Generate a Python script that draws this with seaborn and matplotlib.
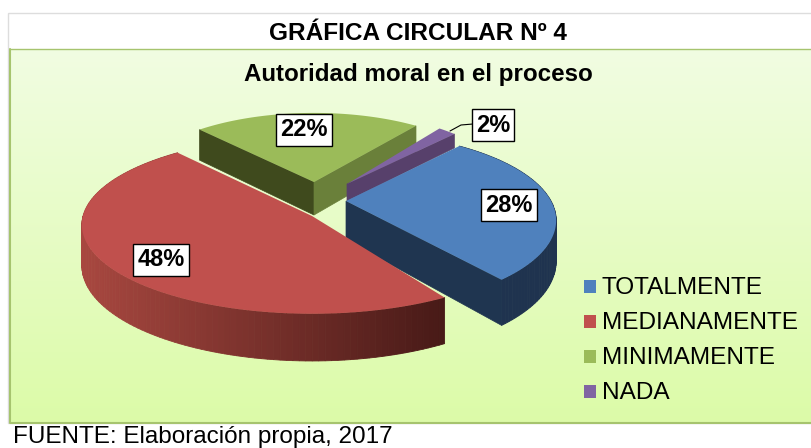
import numpy as np
import matplotlib
matplotlib.use("Agg")
import matplotlib.pyplot as plt
import seaborn as sns
from matplotlib.patches import Polygon, Rectangle

categories = ["TOTALMENTE", "MEDIANAMENTE", "MINIMAMENTE", "NADA"]
values = [28, 48, 22, 2]
title = "GRÁFICA CIRCULAR Nº 4"
subtitle = "Autoridad moral en el proceso"
source = "FUENTE: Elaboración propia, 2017"

top_colors = sns.color_palette(["#4F81BD", "#C0504D", "#9BBB59", "#8064A2"])

# per slice layout in pixels: apex, radii, perspective, depth, rotation
layout = [
    dict(apex=(346, 201), a=205, b=84, k=0.22, depth=39, dk=0.22, rot=5),
    dict(apex=(312, 216), a=229, b=88, k=0.10, depth=40, dk=0.18, rot=-2),
    dict(apex=(314, 182), a=183, b=76, k=0.10, depth=33, dk=0.10, rot=1),
    dict(apex=(347, 184), a=162, b=76, k=0.10, depth=17, dk=0.25, rot=0),
]
label_pos = [(509, 205), (161, 260), (304, 130), (493, 125)]
legend_y = [288, 323, 358, 393]


def project(theta, r, p, down=False):
    t = np.radians(np.asarray(theta, dtype=float) + p["rot"])
    u, v = r * np.cos(t), r * np.sin(t)
    w = 1 + p["k"] * v
    x = p["apex"][0] + p["a"] * u / w
    y = p["apex"][1] - p["b"] * v / w
    if down:
        y = y + p["depth"] * (1 - p["dk"] * v)
    return np.column_stack([x, y])


def sector(wedge, p, down=False):
    theta = np.linspace(wedge.theta1, wedge.theta2, 80)
    apex = project([0], 0, p, down)
    return np.vstack([apex, project(theta, 1, p, down)])


def wall(ax, pts_top, pts_bot, c_from, c_to, z):
    # strips along the rim, shaded from left to right
    c_from, c_to = np.array(c_from), np.array(c_to)
    x0, x1 = pts_top[:, 0].min(), pts_top[:, 0].max()
    for i in range(len(pts_top) - 1):
        f = ((pts_top[i, 0] + pts_top[i + 1, 0]) / 2 - x0) / max(x1 - x0, 1)
        quad = [pts_top[i], pts_top[i + 1], pts_bot[i + 1], pts_bot[i]]
        col = c_from + (c_to - c_from) * f
        ax.add_patch(Polygon(quad, closed=True, fc=col, ec=col, lw=0.6, zorder=z))


def flat_wall(ax, wedge, p, angle, color, z):
    top = np.vstack([project([0], 0, p), project([angle], 1, p)])
    bot = np.vstack([project([0], 0, p, True), project([angle], 1, p, True)])
    ax.add_patch(Polygon([top[0], top[1], bot[1], bot[0]], closed=True,
                         fc=color, ec=color, lw=0.5, zorder=z))


def main():
    sns.set_theme(style="white")
    plt.rcParams["font.family"] = ["Liberation Sans", "DejaVu Sans"]
    plt.rcParams["text.color"] = "black"

    fig = plt.figure(figsize=(8.12, 4.48), dpi=100)
    ax = fig.add_axes([0, 0, 1, 1])

    # pie works out the slice angles, the slices are then tilted by hand
    wedges, _ = ax.pie(values, startangle=44.8, counterclock=False, colors=top_colors)
    wedges = list(wedges)
    for w in wedges:
        w.remove()
    ax.set_aspect("auto")
    ax.set_xlim(0, 812)
    ax.set_ylim(448, 0)
    ax.axis("off")

    ax.add_patch(Rectangle((8, 13), 810, 410, fc="white", ec="#DDDDDD", lw=1, zorder=0))
    grad = np.linspace(0, 1, 256).reshape(-1, 1, 1)
    c0, c1 = np.array([0.945, 0.992, 0.886]), np.array([0.863, 0.984, 0.659])
    ax.imshow(c0 + (c1 - c0) * grad, extent=(10, 812, 423, 49), aspect="auto", zorder=1)
    ax.set_xlim(0, 812)
    ax.set_ylim(448, 0)
    ax.plot([10, 10, 812], [49, 423, 423], color="#A6C46E", lw=1.5, zorder=2)
    ax.plot([10, 812], [49, 49], color="#A6C46E", lw=1, zorder=2)

    blue, red, green, purple = wedges
    pb, pr, pg, pp = layout

    # green slice, theta2 is the left edge here
    flat_wall(ax, green, pg, green.theta2, "#3F4A1D", 3)
    flat_wall(ax, green, pg, green.theta1, "#6A803A", 3)
    ax.add_patch(Polygon(sector(green, pg), closed=True, fc=top_colors[2], ec="none", zorder=4))

    # purple slice
    flat_wall(ax, purple, pp, purple.theta1, "#57406B", 5)
    ax.add_patch(Polygon(sector(purple, pp), closed=True, fc=top_colors[3], ec="none", zorder=6))

    # blue slice
    th = np.linspace(blue.theta1, blue.theta2, 80)
    wall(ax, project(th, 1, pb), project(th, 1, pb, True), (0.12, 0.2, 0.31), (0.12, 0.2, 0.31), 7)
    flat_wall(ax, blue, pb, blue.theta1, "#1F3550", 7)
    ax.add_patch(Polygon(sector(blue, pb), closed=True, fc=top_colors[0], ec="none", zorder=8))

    # red slice
    th = np.linspace(red.theta1, red.theta2, 120)
    wall(ax, project(th, 1, pr), project(th, 1, pr, True), (0.66, 0.28, 0.25), (0.28, 0.1, 0.09), 9)
    ax.add_patch(Polygon(sector(red, pr), closed=True, fc=top_colors[1], ec="none", zorder=10))

    box = dict(boxstyle="square,pad=0.18", fc="white", ec="black", lw=1)
    for v, (x, y) in zip(values, label_pos):
        ax.text(x, y, f"{v}%", fontsize=17, fontweight="bold", color="black",
                ha="center", va="center", bbox=box, zorder=12)
    ax.plot([450, 461, 473], [131, 125, 124], color="black", lw=0.8, zorder=11)

    for name, col, y in zip(categories, top_colors, legend_y):
        ax.add_patch(Rectangle((584, y - 8), 12, 13, fc=col, ec="none", zorder=12))
        ax.text(602, y, name, fontsize=17.6, color="black", ha="left", va="center", zorder=12)

    ax.text(418, 33, title, fontsize=17.6, fontweight="bold", ha="center", va="center", zorder=12)
    ax.text(418, 74, subtitle, fontsize=17.4, fontweight="bold", ha="center", va="center", zorder=12)
    ax.text(13, 436.5, source, fontsize=17.5, ha="left", va="center", zorder=12)

    fig.savefig("out.png", dpi=100)


if __name__ == "__main__":
    main()
